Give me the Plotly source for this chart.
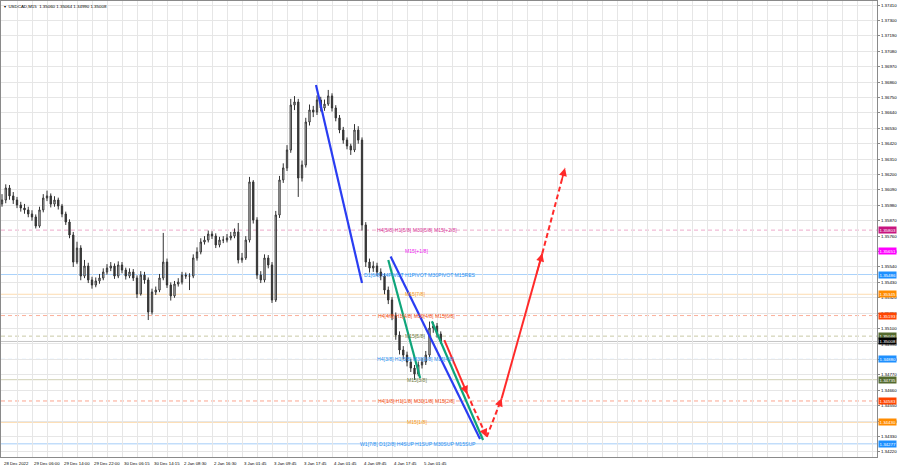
import plotly.graph_objects as go

# ---------------- data ----------------
title_text = "\u25be  USDCAD,M15  1.35060 1.35064 1.34990 1.35008"

time_labels = ["28 Dec 2022", "29 Dec 06:00", "29 Dec 14:00", "29 Dec 22:00", "30 Dec 06:15",
               "30 Dec 14:15", "2 Jan 08:30", "2 Jan 16:30", "3 Jan 01:45", "3 Jan 09:45",
               "3 Jan 17:45", "4 Jan 01:45", "4 Jan 09:45", "4 Jan 17:45", "5 Jan 01:45"]

price_ticks = [1.34220, 1.34330, 1.34440, 1.34550, 1.34660, 1.34770, 1.34880, 1.34990, 1.35100,
               1.35210, 1.35320, 1.35430, 1.35540, 1.35650, 1.35760, 1.35870, 1.35980, 1.36090,
               1.36200, 1.36310, 1.36420, 1.36530, 1.36640, 1.36750, 1.36860, 1.36970, 1.37080,
               1.37190, 1.37300, 1.37410]

first_open = 1.35990
closes = [1.36018, 1.36104, 1.36047, 1.36018, 1.35982, 1.35961, 1.35947, 1.35918, 1.35897, 1.35832,
          1.35947, 1.36032, 1.36047, 1.35989, 1.36018, 1.35975, 1.35918, 1.35861, 1.35768, 1.35575,
          1.35675, 1.35475, 1.35547, 1.35447, 1.35411, 1.35440, 1.35461, 1.35504, 1.35532, 1.35547,
          1.35475, 1.35554, 1.35518, 1.35475, 1.35504, 1.35461, 1.35347, 1.35482, 1.35447, 1.35218,
          1.35361, 1.35375, 1.35461, 1.35575, 1.35411, 1.35333, 1.35418, 1.35432, 1.35482, 1.35475,
          1.35475, 1.35604, 1.35647, 1.35718, 1.35732, 1.35775, 1.35761, 1.35697, 1.35732, 1.35732,
          1.35747, 1.35761, 1.35790, 1.35590, 1.35604, 1.35732, 1.36147, 1.35875, 1.35482, 1.35447,
          1.35604, 1.35554, 1.35304, 1.35911, 1.36161, 1.36247, 1.36375, 1.36696, 1.36718, 1.36175,
          1.36268, 1.36575, 1.36661, 1.36646, 1.36732, 1.36675, 1.36703, 1.36761, 1.36675, 1.36604,
          1.36518, 1.36446, 1.36404, 1.36375, 1.36518, 1.36446, 1.35840, 1.35575, 1.35532, 1.35547,
          1.35504, 1.35475, 1.35375, 1.35304, 1.35190, 1.35054, 1.34947, 1.34911, 1.34861, 1.34818,
          1.34776, 1.34840, 1.34861, 1.34911, 1.35104, 1.35118, 1.35061, 1.35008]
highs = [1.36060, 1.36130, 1.36125, 1.36075, 1.36040, 1.36005, 1.35990, 1.35970, 1.35945, 1.35915,
         1.35970, 1.36060, 1.36085, 1.36065, 1.36045, 1.36035, 1.35990, 1.35935, 1.35880, 1.35790,
         1.35720, 1.35695, 1.35590, 1.35570, 1.35470, 1.35465, 1.35490, 1.35530, 1.35560, 1.35575,
         1.35565, 1.35580, 1.35575, 1.35535, 1.35530, 1.35525, 1.35480, 1.35510, 1.35505, 1.35465,
         1.35385, 1.35400, 1.35490, 1.35783, 1.35600, 1.35430, 1.35440, 1.35460, 1.35505, 1.35500,
         1.35495, 1.35630, 1.35680, 1.35745, 1.35760, 1.35800, 1.35795, 1.35780, 1.35755, 1.35760,
         1.35775, 1.35790, 1.35815, 1.35854, 1.35640, 1.35760, 1.36183, 1.36160, 1.35895, 1.35510,
         1.35630, 1.35625, 1.35575, 1.35940, 1.36190, 1.36280, 1.36410, 1.36740, 1.36760, 1.36740,
         1.36300, 1.36605, 1.36700, 1.36690, 1.36765, 1.36755, 1.36735, 1.36804, 1.36780, 1.36695,
         1.36625, 1.36540, 1.36465, 1.36420, 1.36560, 1.36545, 1.36465, 1.35860, 1.35600, 1.35580,
         1.35570, 1.35530, 1.35495, 1.35400, 1.35325, 1.35215, 1.35080, 1.34975, 1.34935, 1.34885,
         1.34840, 1.34865, 1.34890, 1.34940, 1.35150, 1.35145, 1.35140, 1.35080]
lows = [1.35970, 1.35995, 1.36020, 1.35990, 1.35960, 1.35935, 1.35920, 1.35895, 1.35870, 1.35815,
        1.35820, 1.35930, 1.36010, 1.35965, 1.35970, 1.35950, 1.35895, 1.35840, 1.35745, 1.35540,
        1.35560, 1.35445, 1.35460, 1.35425, 1.35385, 1.35395, 1.35420, 1.35445, 1.35485, 1.35510,
        1.35455, 1.35460, 1.35495, 1.35450, 1.35460, 1.35440, 1.35318, 1.35335, 1.35420, 1.35161,
        1.35200, 1.35340, 1.35360, 1.35445, 1.35390, 1.35300, 1.35320, 1.35400, 1.35415, 1.35455,
        1.35375, 1.35460, 1.35585, 1.35630, 1.35700, 1.35715, 1.35740, 1.35675, 1.35680, 1.35710,
        1.35715, 1.35730, 1.35745, 1.35565, 1.35570, 1.35590, 1.35715, 1.35850, 1.35455, 1.35425,
        1.35430, 1.35530, 1.35283, 1.35290, 1.35890, 1.36140, 1.36225, 1.36355, 1.36660, 1.36040,
        1.36150, 1.36250, 1.36550, 1.36610, 1.36625, 1.36650, 1.36655, 1.36690, 1.36650, 1.36580,
        1.36495, 1.36420, 1.36380, 1.36340, 1.36360, 1.36420, 1.35800, 1.35540, 1.35500, 1.35505,
        1.35475, 1.35445, 1.35345, 1.35275, 1.35160, 1.35020, 1.34915, 1.34880, 1.34830, 1.34790,
        1.34733, 1.34760, 1.34815, 1.34840, 1.34895, 1.35070, 1.35035, 1.34990]

bid_price = 1.35008

level_prices = [1.35803, 1.35651, 1.35486, 1.35345, 1.35193, 1.35046, 1.34880, 1.34735, 1.34583, 1.34430, 1.34277]
level_texts = ["H4[5/8] H1[5/8] M30[5/8] M15[+2/8]", "M15[+1/8]",
               "D1[6/8] H4PIVOT H1PIVOT M30PIVOT M15RES", "M15[7/8]",
               "H4[4/8] H1[4/8] M30[4/8] M15[6/8]", "M15[5/8]",
               "H4[3/8] H1[3/8] M30[3/8] M15[4/8]", "M15[3/8]",
               "H4[1/8] H1[1/8] M30[1/8] M15[2/8]", "M15[1/8]",
               "W1[7/8] D1[2/8] H4SUP H1SUP M30SUP M15SUP"]

# trend / projection lines (x in M15 bar index, y in price)
blue_a_x, blue_a_y = [334.9, 384.0], [1.36839, 1.35425]
blue_b_x, blue_b_y = [414.5, 509.9], [1.35615, 1.34311]
green_a_x, green_a_y = [412.0, 446.0], [1.35590, 1.34747]
green_b_x, green_b_y = [458.5, 513.1], [1.35152, 1.34304]
red_x = [471.8, 496.3, 517.0, 533.0, 576.3, 600.5]
red_y = [1.35018, 1.34633, 1.34326, 1.34602, 1.35637, 1.36247]

# ---------------- styles / layout constants ----------------
bars_per_candle = 4
bars_per_label = 32
bars_per_grid = 16
FONT = "Liberation Sans, Arial, sans-serif"

level_line_colors = ["#eeaacb", "#eeb6ee", "#a9d2fb", "#fddcb0", "#fbb09a", "#c9c9a6",
                     "#9fcaf8", "#d0d0b4", "#fba48e", "#fddcb0", "#a5cdf8"]
level_dash = ["4px,3px", "solid", "solid", "solid", "4px,3px", "4px,3px",
              "4px,3px", "solid", "4px,3px", "solid", "solid"]
level_text_colors = ["#d8399a", "#f018f0", "#2b8ff0", "#f59a22", "#f2561f", "#6f7a46",
                     "#2b8ff0", "#6f7a46", "#f2561f", "#f59a22", "#2b8ff0"]
level_box_colors = ["#c8157f", "#ff00ff", "#1e90ff", "#ff8c00", "#ff4500", "#556b2f",
                    "#1e90ff", "#556b2f", "#ff4500", "#ff8c00", "#1e90ff"]
level_text_x = [397.9, 427.7, 384.0, 427.7, 398.9, 427.7, 397.9, 429.9, 398.9, 429.9, 379.7]

n = len(closes)
bar_idx = [bars_per_candle * k for k in range(n)]
opens = [first_open] + closes[:-1]

fig = go.Figure()

fig.add_trace(go.Candlestick(
    x=bar_idx, open=opens, high=highs, low=lows, close=closes,
    increasing=dict(line=dict(color="#333333", width=1), fillcolor="#ffffff"),
    decreasing=dict(line=dict(color="#333333", width=1), fillcolor="#333333"),
    whiskerwidth=0, showlegend=False, hoverinfo="skip"))

blue = "#2a3df2"
green = "#0ea57a"
red = "#ff2a2a"
for xs, ys, c in [(blue_a_x, blue_a_y, blue), (blue_b_x, blue_b_y, blue),
                  (green_a_x, green_a_y, green), (green_b_x, green_b_y, green)]:
    fig.add_trace(go.Scatter(x=xs, y=ys, mode="lines", line=dict(color=c, width=2.2),
                             showlegend=False, hoverinfo="skip"))

red_styles = ["solid", "5px,3px", "5px,3px", "solid", "5px,3px"]
for s in range(len(red_x) - 1):
    fig.add_trace(go.Scatter(x=red_x[s:s + 2], y=red_y[s:s + 2], mode="lines",
                             line=dict(color=red, width=2, dash=red_styles[s]),
                             showlegend=False, hoverinfo="skip"))

annotations = []
# arrow heads at the end of every red segment
for s in range(1, len(red_x)):
    tx = red_x[s] - 0.15 * (red_x[s] - red_x[s - 1])
    ty = red_y[s] - 0.15 * (red_y[s] - red_y[s - 1])
    annotations.append(dict(x=red_x[s], y=red_y[s], ax=tx, ay=ty, xref="x", yref="y",
                            axref="x", ayref="y", text="", showarrow=True, arrowhead=2,
                            arrowsize=1.0, arrowwidth=1.6, arrowcolor=red, standoff=0))

shapes = []
for p, lc, d in zip(level_prices, level_line_colors, level_dash):
    shapes.append(dict(type="line", xref="paper", x0=0, x1=1, yref="y", y0=p, y1=p,
                       line=dict(color=lc, width=1, dash=d), layer="below"))
shapes.append(dict(type="line", xref="paper", x0=0, x1=1, yref="y", y0=bid_price, y1=bid_price,
                   line=dict(color="#c4c4c4", width=1), layer="below"))

for p, t, tc, tx in zip(level_prices, level_texts, level_text_colors, level_text_x):
    annotations.append(dict(x=tx, y=p, xref="x", yref="y", text=t, showarrow=False,
                            xanchor="left", yanchor="middle",
                            font=dict(family=FONT, size=5.1, color=tc)))

for p, bc in zip(level_prices + [bid_price], level_box_colors + ["#000000"]):
    annotations.append(dict(x=1, y=p, xref="paper", yref="y", text=f"{p:.5f}", showarrow=False,
                            xanchor="left", yanchor="middle", xshift=1, bgcolor=bc, borderpad=0.5,
                            font=dict(family=FONT, size=4.4, color="#ffffff")))

for j, t in enumerate(time_labels):
    annotations.append(dict(x=j * bars_per_label, y=0, xref="x", yref="paper", text=t,
                            showarrow=False, xanchor="left", yanchor="top", yshift=-2,
                            font=dict(family=FONT, size=4.3, color="#000000")))

annotations.append(dict(x=0, y=1, xref="paper", yref="paper", text=title_text, showarrow=False,
                        xanchor="left", yanchor="top", xshift=1, yshift=-1,
                        font=dict(family=FONT, size=4.4, color="#000000")))

grid_vals = list(range(0, 940, bars_per_grid))

fig.update_layout(
    width=900, height=468,
    margin=dict(l=1, r=23, t=1, b=11),
    paper_bgcolor="#ffffff", plot_bgcolor="#ffffff",
    showlegend=False, boxgap=0.5,
    shapes=shapes, annotations=annotations,
    xaxis=dict(range=[-1.07, 933.3], tickvals=grid_vals, showticklabels=False, ticks="",
               showgrid=True, gridcolor="#e6e6e6", gridwidth=1, zeroline=False,
               showline=True, mirror=True, linecolor="#8a8a8a", linewidth=1,
               rangeslider=dict(visible=False), fixedrange=True),
    yaxis=dict(range=[1.34183, 1.37439], side="right", tickvals=price_ticks,
               ticktext=[f"{v:.5f}" for v in price_ticks],
               tickfont=dict(family=FONT, size=4.4, color="#000000"),
               ticks="outside", ticklen=2, tickcolor="#8a8a8a",
               showgrid=True, gridcolor="#e6e6e6", gridwidth=1, zeroline=False,
               showline=True, mirror=True, linecolor="#8a8a8a", linewidth=1, fixedrange=True),
)

fig.write_html("out.html", config={"displayModeBar": False},
               post_script="document.body.style.margin='0';document.body.style.overflow='hidden';")
